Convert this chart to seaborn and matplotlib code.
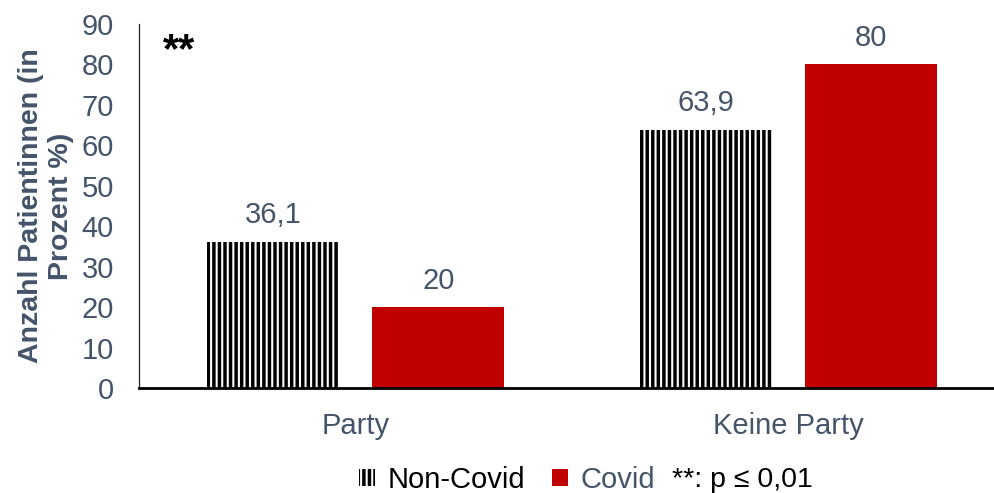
import matplotlib
matplotlib.use("Agg")
import matplotlib.pyplot as plt
from matplotlib.patches import Patch
import pandas as pd
import seaborn as sns

# Data
gruppen = ["Party", "Keine Party"]
status = ["Non-Covid", "Covid"]
non_covid = [36.1, 63.9]
covid = [20, 80]
y_ticks = [0, 10, 20, 30, 40, 50, 60, 70, 80, 90]

TEXT = "#44546A"
RED = "#C00000"

sns.set_style("white")
plt.rcParams["font.family"] = ["Liberation Sans", "DejaVu Sans"]
plt.rcParams["hatch.linewidth"] = 2.5

df = pd.DataFrame({
    "Gruppe": gruppen * 2,
    "Status": [status[0]] * 2 + [status[1]] * 2,
    "Prozent": non_covid + covid,
})

fig = plt.figure(figsize=(9.94, 4.93), dpi=100)
ax = fig.add_axes([139 / 994, 1 - 388 / 493, (993 - 139) / 994, (388 - 24) / 493])

sns.barplot(data=df, x="Gruppe", y="Prozent", hue="Status", order=gruppen,
            hue_order=status, palette=["white", RED], saturation=1,
            width=0.764, gap=0.2, legend=False, ax=ax)

# Vertical-line fill for the Non-Covid bars
for bar in ax.containers[0]:
    bar.set_hatch("|||")
    bar.set_edgecolor("black")
    bar.set_linewidth(0)
for bar in ax.containers[1]:
    bar.set_linewidth(0)

def fmt(v):
    return f"{v:g}".replace(".", ",")

for cont, vals in zip(ax.containers, [non_covid, covid]):
    ax.bar_label(cont, labels=[fmt(v) for v in vals], padding=9,
                 fontsize=21, color=TEXT)

ax.set_xlim(-0.5, -0.5 + (993 - 139) / 433)
ax.set_ylim(0, 90)
ax.set_yticks(y_ticks)
ax.set_yticklabels([str(t) for t in y_ticks])
ax.tick_params(axis="y", length=0, pad=18, labelsize=21, labelcolor=TEXT)
ax.tick_params(axis="x", length=0, pad=17, labelsize=21, labelcolor=TEXT)
ax.set_xlabel("")
ax.set_ylabel("Anzahl Patientinnen (in\nProzent %)", fontsize=20.5,
              fontweight="bold", color=TEXT, ha="center", va="center")
ax.yaxis.set_label_coords((46 - 139) / 854, 0.5)

for side in ["top", "right"]:
    ax.spines[side].set_visible(False)
ax.spines["left"].set_color("#222222")
ax.spines["left"].set_linewidth(0.9)
ax.spines["bottom"].set_color("black")
ax.spines["bottom"].set_linewidth(2)

ax.text(0.028, 0.925, "**", transform=ax.transAxes, fontsize=30,
        fontweight="bold", color="black", ha="left", va="center")

handles = [
    Patch(facecolor="white", edgecolor="black", hatch="|||", linewidth=0),
    Patch(facecolor=RED, edgecolor=RED, linewidth=0),
]
leg = fig.legend(handles, status, loc="center", bbox_to_anchor=(0.51, 0.027),
                 ncol=2, frameon=False, fontsize=21, handlelength=0.55,
                 handleheight=0.55, handletextpad=0.45, columnspacing=0.9)
leg.get_texts()[0].set_color("black")
leg.get_texts()[1].set_color(TEXT)

fig.text(672 / 994, 0.027, "**: p \u2264 0,01", fontsize=20.5, color="black",
         ha="left", va="center")

fig.savefig("out.png", dpi=100)
